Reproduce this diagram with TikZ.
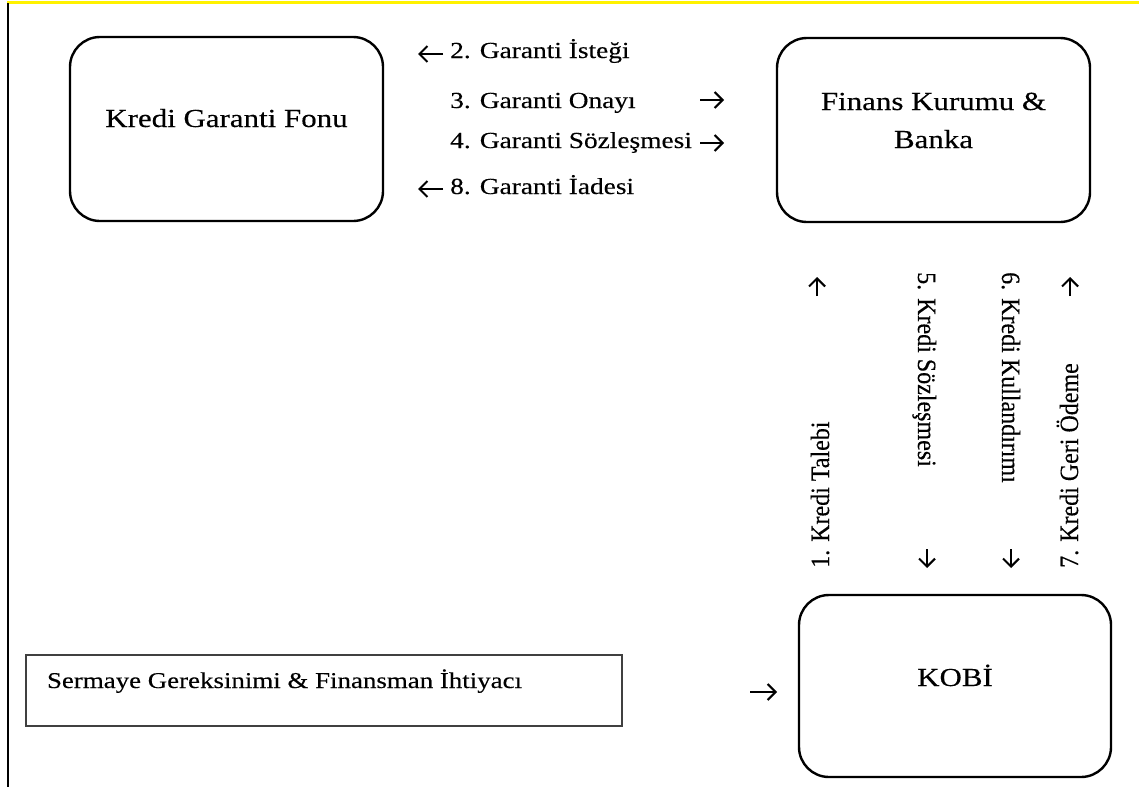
\documentclass[tikz,border=0pt]{standalone}
\usepackage{fontspec}
\setmainfont{Liberation Serif}[FakeStretch=1.19,FakeBold=0.3]
\newfontfamily\vfont{Liberation Serif}[FakeBold=0.3]
\usetikzlibrary{arrows.meta}
\begin{document}
\begin{tikzpicture}[x=1pt,y=-1pt,
  rbox/.style={draw,line width=2.4pt,rounded corners=30pt,minimum width=313pt,minimum height=184pt,inner sep=0pt,font=\fontsize{26}{38}\selectfont},
  sbox/.style={draw=black!75,line width=1.5pt,minimum width=596pt,minimum height=71pt,inner xsep=21pt,inner ysep=0pt,font=\fontsize{22.6}{28}\selectfont},
  lbl/.style={anchor=base west,inner sep=0pt,font=\fontsize{23}{28}\selectfont},
  vlbl/.style={anchor=base west,inner sep=0pt,font=\vfont\fontsize{24}{28}\selectfont},
  arr/.style={line width=2.1pt,-{Straight Barb[length=8pt,width=16pt]}},
]
\useasboundingbox (0,0) rectangle (1139,787);
\fill[white] (0,0) rectangle (1139,787);
% frame lines
\draw[yellow,line width=2.4pt] (7,2.5) -- (1139,2.5);
\draw[line width=1.7pt] (8,3) -- (8,787);
% boxes
\node[rbox] (fund) at (226.5,129) {\raisebox{2pt}[0pt][0pt]{Kredi Garanti Fonu}};
\node[rbox] (bank) at (933.5,130) {\raisebox{-18pt}[0pt][0pt]{\begin{tabular}[b]{@{}c@{}}Finans Kurumu \&\\Banka\end{tabular}}};
\node[rbox,minimum width=312pt,minimum height=182pt] (kobi) at (955,686) {\raisebox{0pt}[0pt][0pt]{KOBİ}};
\node[sbox] (need) at (324,690.5) {\raisebox{2.5pt}[0pt][0pt]{\makebox[554pt][l]{Sermaye Gereksinimi \& Finansman İhtiyacı}}};
% horizontal labels
\node[lbl] (l2) at (450,58) {2. Garanti İsteği};
\node[lbl] (l3) at (450,108) {3. Garanti Onayı};
\node[lbl] (l4) at (450,148) {4. Garanti Sözleşmesi};
\node[lbl] (l8) at (450,194) {8. Garanti İadesi};
% vertical labels
\node[vlbl,rotate=90] (l1) at (829,568) {\scalebox{1}[1.1]{1. Kredi Talebi}};
\node[vlbl,rotate=-90] (l5) at (918,272) {\scalebox{1}[1.1]{5. Kredi Sözleşmesi}};
\node[vlbl,rotate=-90] (l6) at (1002,272) {\scalebox{1}[1.1]{6. Kredi Kullandırımı}};
\node[vlbl,rotate=90] (l7) at (1078,568) {\scalebox{1}[1.1]{7. Kredi Geri Ödeme}};
% arrow coordinates
\coordinate (a2s) at (443,54);   \coordinate (a2e) at (418,54);
\coordinate (a3s) at (700,100);  \coordinate (a3e) at (724,100);
\coordinate (a4s) at (700,143);  \coordinate (a4e) at (724,143);
\coordinate (a8s) at (443,189);  \coordinate (a8e) at (418,189);
\coordinate (a1s) at (817,296);  \coordinate (a1e) at (817,277);
\coordinate (a5s) at (927,549);  \coordinate (a5e) at (927,568);
\coordinate (a6s) at (1011,549); \coordinate (a6e) at (1011,568);
\coordinate (a7s) at (1070,296); \coordinate (a7e) at (1070,277);
\coordinate (a9s) at (750,692);  \coordinate (a9e) at (777,692);
\foreach \a in {2,3,4,8,1,5,6,7,9}{
  \draw[arr] (a\a s) -- (a\a e);
}
\end{tikzpicture}
\end{document}
